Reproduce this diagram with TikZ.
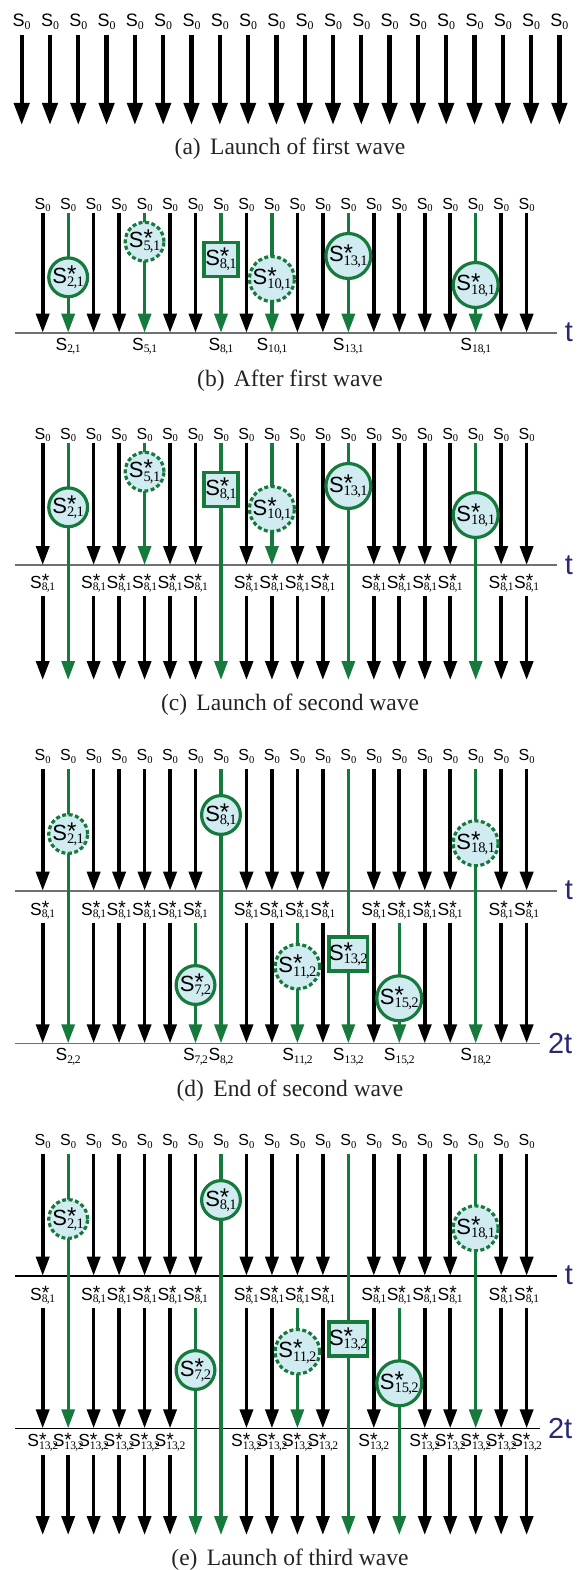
\documentclass[tikz,border=0pt]{standalone}
\usepackage{fontspec}
\setmainfont{Liberation Serif}
\setsansfont{Liberation Sans}
\usetikzlibrary{arrows.meta}

\definecolor{lanegreen}{RGB}{22,122,60}
\definecolor{statefill}{RGB}{208,236,241}
\definecolor{stepnavy}{RGB}{40,40,115}
\definecolor{axisgray}{RGB}{112,112,112}
\definecolor{capgray}{RGB}{35,35,35}

% state labels: sans S, serif index
\newcommand{\Sidx}[1]{\raisebox{-0.15em}{\scalebox{0.66}{\textrm{#1}}}}
\newcommand{\Szero}{\textsf{S}\Sidx{0}}
\newcommand{\Sout}[2]{\textsf{S}\Sidx{#1\kern-0.06em,\kern-0.04em#2}}
\newcommand{\Sst}[2]{\textsf{S}\rlap{\raisebox{0.04em}{\scalebox{1.1}{\textsf{*}}}}\Sidx{#1\kern-0.06em,\kern-0.04em#2}}

\tikzset{
  lane/.style={line width=3.6pt, -{Triangle[length=19pt,width=13pt]}},
  biglane/.style={line width=4.3pt, -{Triangle[length=22pt,width=15pt]}},
  greenlane/.style={lane, draw=lanegreen, line width=3.3pt},
  timeline/.style={draw=axisgray, line width=1.6pt},
  toplabel/.style={anchor=base, inner sep=0pt, font=\fontsize{16}{16}\selectfont},
  biglabel/.style={toplabel, font=\fontsize{18}{18}\selectfont},
  outlabel/.style={anchor=base, inner sep=0pt, font=\fontsize{17.5}{17.5}\selectfont},
  runstate/.style={circle, draw=lanegreen, fill=statefill, line width=3.2pt,
    minimum size=37pt, inner sep=0pt, font=\fontsize{22}{22}\selectfont},
  lostate/.style={runstate, dash pattern=on 4pt off 2.5pt},
  boxstate/.style={runstate, rectangle, minimum size=34pt},
  steplabel/.style={anchor=west, inner sep=0pt, xshift=8pt, text=stepnavy,
    font=\sffamily\fontsize{29}{29}\selectfont},
  caption/.style={anchor=base, inner sep=0pt, text=capgray,
    font=\fontsize{23.5}{25}\selectfont},
}

\begin{document}
\begin{tikzpicture}[x=1pt,y=-1pt]
\useasboundingbox (0,0) rectangle (584,1570);

% (a) first wave launched on every lane
\begin{scope}[x=28.3pt, xshift=-6.6pt]
\foreach \i in {1,...,20}
{
\node[biglabel] (a-s\i) at (\i,27) {\Szero};
\coordinate (a-u\i) at (\i,35);
\coordinate (a-d\i) at (\i,125);
\draw[biglane] (a-u\i) -- (a-d\i);
}
\end{scope}
\node[caption] (a-cap) at (290,155) {(a)\hspace{0.4em}Launch of first wave};

% (b) after first wave
\begin{scope}[x=25.47pt, xshift=17.23pt]
\draw[timeline] (-0.09,332.7) coordinate (b-l) -- (21.18,332.7) coordinate (b-r);
\node[steplabel] (b-step) at (b-r) {t};
\foreach \i in {1,...,20}
{
\node[toplabel] (b-s\i) at (\i,209.3) {\Szero};
\coordinate (b-u\i) at (\i,212.7);
\coordinate (b-d\i) at (\i,332.7);
}
\foreach \i in {1,3,4,6,7,9,11,12,14,15,16,17,19,20}
\draw[lane] (b-u\i) -- (b-d\i);
\foreach \i in {2,5,8,10,13,18}
{
\draw[greenlane] (b-u\i) -- (b-d\i);
\node[outlabel] (b-o\i) at (\i,350) {\Sout{\i}{1}};
}
% states reached
\node[runstate] (b-c2) at (2,277.3) {\Sst{2}{1}};
\node[lostate] (b-c5) at (5,241.7) {\Sst{5}{1}};
\node[boxstate] (b-c8) at (8,259.3) {\Sst{8}{1}};
\node[lostate] (b-c10) at (10,279) {\Sst{10}{1}};
\node[runstate] (b-c13) at (13,256) {\Sst{13}{1}};
\node[runstate] (b-c18) at (18,285) {\Sst{18}{1}};
\end{scope}
\node[caption] (b-cap) at (290,386) {(b)\hspace{0.4em}After first wave};

% (c) second wave launched from the chosen state
\begin{scope}[x=25.47pt, xshift=17.23pt]
\draw[timeline] (-0.09,565) coordinate (c-l) -- (21.18,565) coordinate (c-r);
\node[steplabel] (c-step) at (c-r) {t};
\foreach \i in {1,...,20}
{
\node[toplabel] (c-s\i) at (\i,439.3) {\Szero};
\coordinate (c-u\i) at (\i,442.7);
\coordinate (c-d\i) at (\i,565);
\coordinate (c-e\i) at (\i,596);
\coordinate (c-f\i) at (\i,680);
}
\foreach \i in {1,3,4,6,7,9,11,12,14,15,16,17,19,20}
\draw[lane] (c-u\i) -- (c-d\i);
\foreach \i in {5,10}
\draw[greenlane] (c-u\i) -- (c-d\i);
\foreach \i in {2,8,13,18}
\draw[greenlane] (c-u\i) -- (c-f\i);
\foreach \i in {1,3,4,5,6,7,9,10,11,12,14,15,16,17,19,20}
{
\node[outlabel] (c-o\i) at (\i,588.3) {\Sst{8}{1}};
\draw[lane] (c-e\i) -- (c-f\i);
}
% states reached
\node[runstate] (c-c2) at (2,507.3) {\Sst{2}{1}};
\node[lostate] (c-c5) at (5,471.7) {\Sst{5}{1}};
\node[boxstate] (c-c8) at (8,489.3) {\Sst{8}{1}};
\node[lostate] (c-c10) at (10,509) {\Sst{10}{1}};
\node[runstate] (c-c13) at (13,486) {\Sst{13}{1}};
\node[runstate] (c-c18) at (18,515) {\Sst{18}{1}};
\end{scope}
\node[caption] (c-cap) at (290,710) {(c)\hspace{0.4em}Launch of second wave};

% (d) end of second wave
\begin{scope}[x=25.47pt, xshift=17.23pt]
\draw[timeline] (-0.09,890.7) coordinate (d-l) -- (21.18,890.7) coordinate (d-r);
\node[steplabel] (d-step) at (d-r) {t};
\draw[timeline] (-0.09,1043.3) coordinate (d-ll) -- (20.52,1043.3) coordinate (d-rr);
\node[steplabel] (d-step2) at (d-rr) {2t};
\foreach \i in {1,...,20}
{
\node[toplabel] (d-s\i) at (\i,760.7) {\Szero};
\coordinate (d-u\i) at (\i,769.3);
\coordinate (d-d\i) at (\i,890.7);
\coordinate (d-e\i) at (\i,922.7);
\coordinate (d-f\i) at (\i,1043.3);
}
\foreach \i in {1,3,4,5,6,7,9,10,11,12,14,15,16,17,19,20}
{
\draw[lane] (d-u\i) -- (d-d\i);
\node[outlabel] (d-o\i) at (\i,915) {\Sst{8}{1}};
}
\foreach \i in {2,8,13,18}
\draw[greenlane] (d-u\i) -- (d-f\i);
\foreach \i in {1,3,4,5,6,9,10,12,14,16,17,19,20}
\draw[lane] (d-e\i) -- (d-f\i);
\foreach \i in {7,11,15}
\draw[greenlane] (d-e\i) -- (d-f\i);
\foreach \i in {2,7,8,11,13,15,18}
\node[outlabel] (d-z\i) at (\i,1060.7) {\Sout{\i}{2}};
% states reached
\node[lostate] (d-c2) at (2,834) {\Sst{2}{1}};
\node[runstate] (d-c8) at (8,815) {\Sst{8}{1}};
\node[lostate] (d-c18) at (18,843.3) {\Sst{18}{1}};
\node[runstate] (d-c7) at (7,985) {\Sst{7}{2}};
\node[lostate] (d-c11) at (11,966.7) {\Sst{11}{2}};
\node[boxstate] (d-c13) at (13,954) {\Sst{13}{2}};
\node[runstate] (d-c15) at (15,998.3) {\Sst{15}{2}};
\end{scope}
\node[caption] (d-cap) at (290,1096.7) {(d)\hspace{0.4em}End of second wave};

% (e) third wave launched
\begin{scope}[x=25.47pt, xshift=17.23pt]
\draw[timeline, draw=black] (-0.09,1275.7) coordinate (e-l) -- (21.18,1275.7) coordinate (e-r);
\node[steplabel] (e-step) at (e-r) {t};
\draw[timeline, draw=black] (-0.09,1428.3) coordinate (e-ll) -- (20.52,1428.3) coordinate (e-rr);
\node[steplabel] (e-step2) at (e-rr) {2t};
\foreach \i in {1,...,20}
{
\node[toplabel] (e-s\i) at (\i,1145.7) {\Szero};
\coordinate (e-u\i) at (\i,1154.3);
\coordinate (e-d\i) at (\i,1275.7);
\coordinate (e-e\i) at (\i,1307.7);
\coordinate (e-f\i) at (\i,1428.3);
\coordinate (e-g\i) at (\i,1455);
\coordinate (e-h\i) at (\i,1535);
}
\foreach \i in {1,3,4,5,6,7,9,10,11,12,14,15,16,17,19,20}
{
\draw[lane] (e-u\i) -- (e-d\i);
\node[outlabel] (e-o\i) at (\i,1300) {\Sst{8}{1}};
}
\foreach \i in {2,18}
\draw[greenlane] (e-u\i) -- (e-f\i);
\foreach \i in {8,13}
\draw[greenlane] (e-u\i) -- (e-h\i);
\foreach \i in {1,3,4,5,6,9,10,12,14,16,17,19,20}
\draw[lane] (e-e\i) -- (e-f\i);
\draw[greenlane] (e-e11) -- (e-f11);
\foreach \i in {7,15}
\draw[greenlane] (e-e\i) -- (e-h\i);
\foreach \i in {1,2,3,4,5,6,9,10,11,12,14,16,17,18,19,20}
{
\node[outlabel] (e-z\i) at (\i,1446.7) {\Sst{13}{2}};
\draw[lane] (e-g\i) -- (e-h\i);
}
% states reached
\node[lostate] (e-c2) at (2,1219) {\Sst{2}{1}};
\node[runstate] (e-c8) at (8,1200) {\Sst{8}{1}};
\node[lostate] (e-c18) at (18,1228.3) {\Sst{18}{1}};
\node[runstate] (e-c7) at (7,1370) {\Sst{7}{2}};
\node[lostate] (e-c11) at (11,1351.7) {\Sst{11}{2}};
\node[boxstate] (e-c13) at (13,1339) {\Sst{13}{2}};
\node[runstate] (e-c15) at (15,1383.3) {\Sst{15}{2}};
\end{scope}
\node[caption] (e-cap) at (290,1565) {(e)\hspace{0.4em}Launch of third wave};

\end{tikzpicture}
\end{document}
